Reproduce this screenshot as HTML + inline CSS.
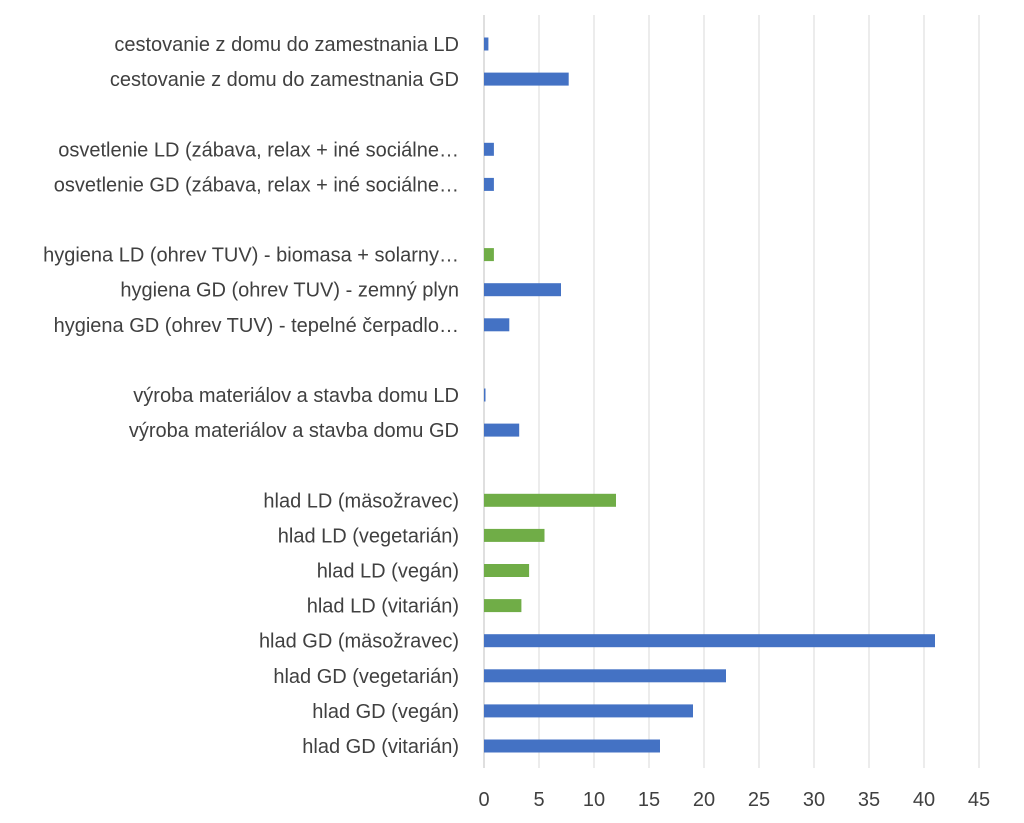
<!DOCTYPE html>
<html><head><meta charset="utf-8"><style>
html,body{margin:0;padding:0;background:#fff;width:1024px;height:823px;overflow:hidden}
svg text{font-family:"Liberation Sans",sans-serif;fill:#404040}
</style></head><body>
<svg id="chart" width="1024" height="823" xmlns="http://www.w3.org/2000/svg"></svg>
<script>
const categories=["cestovanie z domu do zamestnania LD","cestovanie z domu do zamestnania GD","","osvetlenie LD (zábava, relax + iné sociálne…","osvetlenie GD (zábava, relax + iné sociálne…","","hygiena LD (ohrev TUV) - biomasa + solarny…","hygiena GD (ohrev TUV) - zemný plyn","hygiena GD (ohrev TUV) - tepelné čerpadlo…","","výroba materiálov a stavba domu LD","výroba materiálov a stavba domu GD","","hlad LD (mäsožravec)","hlad LD (vegetarián)","hlad LD (vegán)","hlad LD (vitarián)","hlad GD (mäsožravec)","hlad GD (vegetarián)","hlad GD (vegán)","hlad GD (vitarián)"];
const values=[0.4,7.7,null,0.9,0.9,null,0.9,7,2.3,null,0.1,3.2,null,12,5.5,4.1,3.4,41,22,19,16];
const seriesGroup=["LD","GD",null,"LD","GD",null,"LDG","GD","GD",null,"LD","GD",null,"LDG","LDG","LDG","LDG","GD","GD","GD","GD"];
const ticks=[0,5,10,15,20,25,30,35,40,45];
const svg=document.getElementById('chart');const NS="http://www.w3.org/2000/svg";
const x=v=>484+v*11;const y=i=>44+i*35.1;
function mk(t,a){const e=document.createElementNS(NS,t);for(const k in a)e.setAttribute(k,a[k]);svg.appendChild(e);return e;}
ticks.forEach(t=>{
 const g=mk('line',{x1:x(t),x2:x(t),y1:15,y2:768,stroke:t===0?'#bfbfbf':'#d9d9d9','stroke-width':1});
 
 
 const l=mk('text',{x:x(t),y:806,'font-size':20,'text-anchor':'middle'});l.textContent=t;
 
 
});
categories.forEach((c,i)=>{
 if(!c)return;
 const l=mk('text',{x:459,y:y(i)+7,'font-size':20,'text-anchor':'end'});l.textContent=c;
 
 
 const v=values[i];
 const b=mk('rect',{x:x(0),y:y(i)-6.5,width:Math.max(x(v)-x(0),1.5),height:13,fill:seriesGroup[i]==='LDG'?'#70AD47':'#4472C4'});
 
 
});
</script>
</body></html>
